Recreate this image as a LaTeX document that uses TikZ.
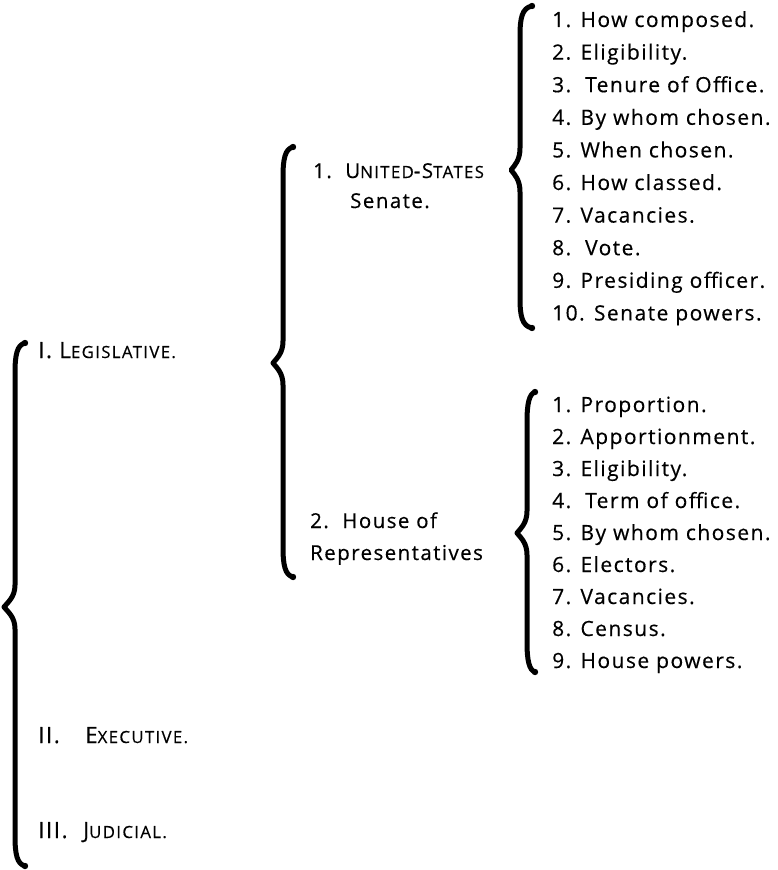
\documentclass[tikz,border=0pt]{standalone}
\usepackage{fontspec}
\setmainfont{Open Sans}[LetterSpace=7,FakeBold=0.4]
\newcommand\smallcp[1]{{\fontsize{16.8}{20}\selectfont\addfontfeature{LetterSpace=8}#1}}
\newcommand\cbrace[6]{%
  \draw[bracestroke] (#6,#2) .. controls (#1+2,#2+2) and (#1,#2+12) .. (#1,#2+30)
    -- (#1,#3-22) .. controls (#1,#3-10) and (#5+4,#3-5) .. (#5,#3)
    .. controls (#5+4,#3+5) and (#1,#3+10) .. (#1,#3+22)
    -- (#1,#4-30) .. controls (#1,#4-12) and (#1+2,#4-2) .. (#6,#4);
  \fill (#6,#2) circle (3.2);
  \fill (#6,#4) circle (3.2);}
\tikzset{
  bracestroke/.style={line width=5pt, line cap=round, line join=round},
  lbl/.style={anchor=base west, inner sep=0pt, font=\fontsize{21}{24}\selectfont},
  lbltwo/.style={lbl, font=\fontsize{20.5}{24}\selectfont},
  lblone/.style={lbl, font=\fontsize{22.4}{26}\selectfont},
}
\begin{document}
\begin{tikzpicture}[x=1pt,y=-1pt]
\useasboundingbox (0,0) rectangle (778,870);
% braces
\cbrace{15}{343}{607}{866}{4}{25}
\cbrace{283}{147}{363}{577}{273}{293}
\cbrace{520}{6}{170}{328}{511}{532}
\cbrace{527}{392}{533}{672}{517}{535}
% level 1
\node[lblone] (leg) at (38,358) {I. L\smallcp{EGISLATIVE.}};
\node[lblone] (exn) at (38,743) {II.};
\node[lblone] (ex) at (85,743) {E\smallcp{XECUTIVE.}};
\node[lblone] (jun) at (38,838) {III.};
\node[lblone] (ju) at (83,838) {J\smallcp{UDICIAL.}};
% level 2
\node[lbltwo] (sen1) at (313,178) {1.\ \ U\smallcp{NITED}-S\smallcp{TATES}};
\node[lbltwo] (sen2) at (350,208) {Senate.};
\node[lbltwo] (hou1) at (310,528) {2.\ \ House of};
\node[lbltwo] (hou2) at (310,560) {Representatives};
% senate items
\node[lbl] (s1) at (552,27) {1. How composed.};
\node[lbl] (s2) at (552,59.6) {2. Eligibility.};
\node[lbl] (s3) at (552,92.2) {3.\ \ Tenure of Office.};
\node[lbl] (s4) at (552,124.8) {4. By whom chosen.};
\node[lbl] (s5) at (552,157.4) {5. When chosen.};
\node[lbl] (s6) at (552,190) {6. How classed.};
\node[lbl] (s7) at (552,222.6) {7. Vacancies.};
\node[lbl] (s8) at (552,255.2) {8.\ \ Vote.};
\node[lbl] (s9) at (552,287.8) {9. Presiding officer.};
\node[lbl] (s10) at (552,320.4) {10. Senate powers.};
% house items
\node[lbl] (h1) at (552,412) {1. Proportion.};
\node[lbl] (h2) at (552,444) {2. Apportionment.};
\node[lbl] (h3) at (552,476) {3. Eligibility.};
\node[lbl] (h4) at (552,508) {4.\ \ Term of office.};
\node[lbl] (h5) at (552,540) {5. By whom chosen.};
\node[lbl] (h6) at (552,572) {6. Electors.};
\node[lbl] (h7) at (552,604) {7. Vacancies.};
\node[lbl] (h8) at (552,636) {8. Census.};
\node[lbl] (h9) at (552,668) {9. House powers.};
\end{tikzpicture}
\end{document}
